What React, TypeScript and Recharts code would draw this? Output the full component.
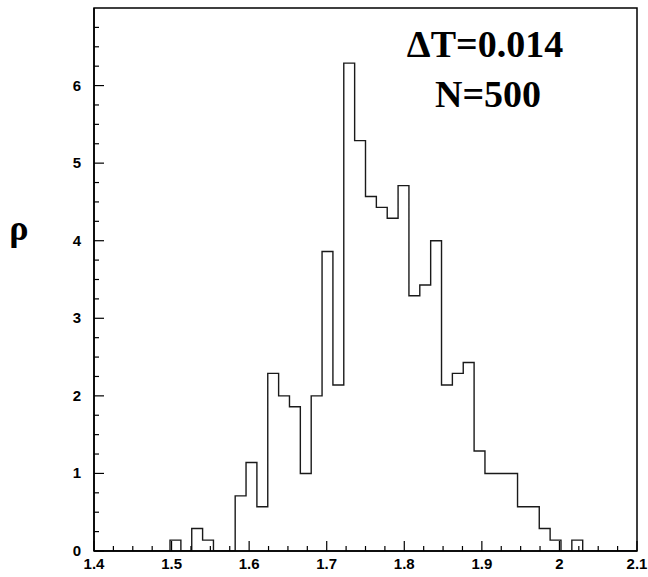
import { LineChart, Line, XAxis, YAxis, ReferenceArea } from "recharts";

// histogram of rho, bins of width dT starting at xStart
const xStart = 1.4;
const binWidth = 0.014;
const binDensity = [
  0, 0, 0, 0, 0, 0, 0, 0.14, 0, 0.29,
  0.14, 0, 0, 0.71, 1.14, 0.57, 2.29, 2.0, 1.86, 1.0,
  2.0, 3.86, 2.14, 6.29, 5.29, 4.57, 4.43, 4.29, 4.71, 3.29,
  3.43, 4.0, 2.14, 2.29, 2.43, 1.29, 1.0, 1.0, 1.0, 0.57,
  0.57, 0.29, 0.14, 0, 0.14, 0, 0, 0, 0, 0,
];

const xTicks = [
  1.4, 1.425, 1.45, 1.475, 1.5, 1.525, 1.55, 1.575, 1.6, 1.625, 1.65, 1.675,
  1.7, 1.725, 1.75, 1.775, 1.8, 1.825, 1.85, 1.875, 1.9, 1.925, 1.95, 1.975,
  2.0, 2.025, 2.05, 2.075, 2.1,
];
const yTicks = [
  0, 0.25, 0.5, 0.75, 1, 1.25, 1.5, 1.75, 2, 2.25, 2.5, 2.75, 3, 3.25, 3.5,
  3.75, 4, 4.25, 4.5, 4.75, 5, 5.25, 5.5, 5.75, 6, 6.25, 6.5, 6.75, 7,
];
const xLabelStep = 0.1;
const yLabelStep = 1;

// step points: left edge of each bin, plus closing point at the right end
const data = binDensity
  .map((v, i) => ({ x: xStart + i * binWidth, rho: v }))
  .concat([{ x: xStart + binDensity.length * binWidth, rho: 0 }]);

const W = 648;
const H = 577;
const tickFont = "'Liberation Sans', Arial, sans-serif";
const serif = "'Liberation Serif', 'Times New Roman', serif";

const isMajor = (v: number, step: number) =>
  Math.abs(v / step - Math.round(v / step)) < 1e-6;

function XTick(props: any) {
  const { x, y, payload } = props;
  const v = payload.value as number;
  const major = isMajor(v, xLabelStep);
  return (
    <g>
      <line x1={x} y1={y} x2={x} y2={y - (major ? 10 : 5)} stroke="#000" strokeWidth={1.2} />
      {major && (
        <text x={x} y={y + 18} textAnchor="middle" fontFamily={tickFont} fontWeight="bold" fontSize={15} fill="#000">
          {String(Number(v.toFixed(2)))}
        </text>
      )}
    </g>
  );
}

function YTick(props: any) {
  const { x, y, payload } = props;
  const v = payload.value as number;
  const major = isMajor(v, yLabelStep);
  if (v >= 7) return <g />;
  return (
    <g>
      <line x1={x} y1={y} x2={x + (major ? 10 : 5)} y2={y} stroke="#000" strokeWidth={1.2} />
      {major && (
        <text x={x - 13} y={y + 5} textAnchor="end" fontFamily={tickFont} fontWeight="bold" fontSize={15} fill="#000">
          {String(v)}
        </text>
      )}
    </g>
  );
}

export default function App() {
  return (
    <div style={{ position: "absolute", left: 0, top: 0, width: W, height: H, background: "#fff" }}>
      <LineChart width={W} height={H} data={data} margin={{ top: 8, right: 11, left: 0, bottom: 0 }}>
        <XAxis
          dataKey="x"
          type="number"
          domain={[1.4, 2.1]}
          ticks={xTicks}
          interval={0}
          allowDataOverflow
          height={26}
          tickSize={0}
          tickMargin={0}
          tickLine={false}
          tick={<XTick />}
          axisLine={{ stroke: "#000", strokeWidth: 1.5 }}
        />
        <YAxis
          type="number"
          domain={[0, 7]}
          ticks={yTicks}
          interval={0}
          allowDataOverflow
          width={94}
          tickSize={0}
          tickMargin={0}
          tickLine={false}
          tick={<YTick />}
          axisLine={{ stroke: "#000", strokeWidth: 1.5 }}
        />
        <ReferenceArea x1={1.4} x2={2.1} y1={0} y2={7} fill="none" stroke="#000" strokeWidth={1.5} />
        <Line
          type="stepAfter"
          dataKey="rho"
          stroke="#1a1a1a"
          strokeWidth={1.4}
          dot={false}
          isAnimationActive={false}
        />
      </LineChart>
      <svg width={W} height={H} style={{ position: "absolute", left: 0, top: 0, pointerEvents: "none" }}>
        <text x={19} y={240} textAnchor="middle" fontFamily={serif} fontWeight="bold" fontSize={36} fill="#000">
          ρ
        </text>
        <text x={485} y={57} textAnchor="middle" fontFamily={serif} fontWeight="bold" fontSize={38} fill="#000">
          ΔT=0.014
        </text>
        <text x={488} y={107} textAnchor="middle" fontFamily={serif} fontWeight="bold" fontSize={38} fill="#000">
          N=500
        </text>
      </svg>
    </div>
  );
}
